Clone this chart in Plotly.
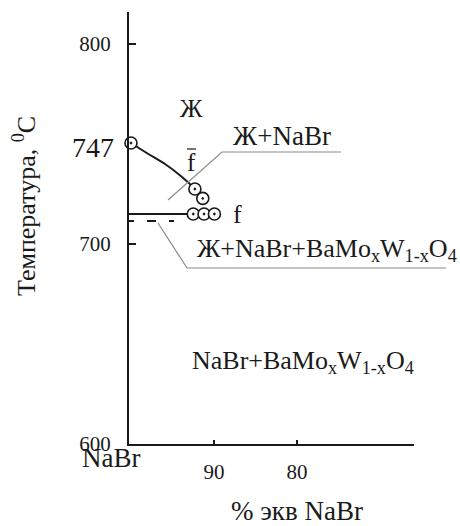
import plotly.graph_objects as go

# ---- data ----
liquidus_x = [100.0, 98.1, 95.9, 93.85, 92.3, 91.35]
liquidus_y = [750.5, 745.5, 740.0, 733.5, 727.5, 722.8]

points_x = [100.0, 92.3, 91.35, 92.5, 91.2, 89.95]
points_y = [750.5, 727.5, 722.8, 715.0, 715.0, 715.0]

solidus_x = [100.24, 92.5]
solidus_y = [715.0, 715.0]

dashed_x = [100.24, 93.85]
dashed_y = [711.5, 711.5]

y_tickvals = [600, 700, 800]
y_ticktext = ["600", "700", "800"]
x_tickvals = [90, 80]
x_ticktext = ["90", "80"]

FONT = "Liberation Serif"
INK = "#1a1a1a"
GREY = "#8a8a8a"

fig = go.Figure()

fig.add_trace(go.Scatter(x=solidus_x, y=solidus_y, mode="lines",
                         line=dict(color=INK, width=2), hoverinfo="skip"))
fig.add_trace(go.Scatter(x=dashed_x, y=dashed_y, mode="lines",
                         line=dict(color=INK, width=2, dash="5px,13px,9px,13px"), hoverinfo="skip"))
fig.add_trace(go.Scatter(x=liquidus_x, y=liquidus_y, mode="lines",
                         line=dict(color=INK, width=2, shape="spline"), hoverinfo="skip"))

# leader line for Ж+NaBr
fig.add_trace(go.Scatter(x=[95.54, 89.04, 74.7], y=[722, 746, 746], mode="lines",
                         line=dict(color=GREY, width=1.2), hoverinfo="skip"))

fig.add_trace(go.Scatter(x=points_x, y=points_y, mode="markers",
                         marker=dict(symbol="circle-dot", size=12, color="white",
                                     line=dict(color=INK, width=1.6)),
                         cliponaxis=False, hoverinfo="skip"))

W = 285.0
H = 432.0
def px(x):
    return (x - 129) / W
def py(y):
    return (444 - y) / H

# long leader line reaching beyond the plot (paper coords, unclipped)
fig.add_shape(type="path",
              path=f"M {px(158)},{py(223)} L {px(187)},{py(268)} L {px(446)},{py(268)}",
              xref="paper", yref="paper", line=dict(color=GREY, width=1.2))
# overbar of f
fig.add_shape(type="line", x0=px(187), x1=px(196), y0=py(149), y1=py(149),
              xref="paper", yref="paper", line=dict(color=INK, width=1.2))

ann = []
def A(text, x, y, size, xanchor="center", yanchor="middle", xref="x", yref="y", angle=0):
    ann.append(dict(text=text, x=x, y=y, xref=xref, yref=yref, showarrow=False,
                    xanchor=xanchor, yanchor=yanchor, textangle=angle,
                    font=dict(family=FONT, size=size, color=INK)))

A("Ж", 92.77, 768, 25)
A("f", 92.77, 741, 25)
A("Ж+NaBr", 87.9, 754, 27, xanchor="left")
A("f", 87.9, 715, 26, xanchor="left")
A("Ж+NaBr+BaMo<sub>x</sub>W<sub>1-x</sub>O<sub>4</sub>", 92.3, 697, 26, xanchor="left")
A("NaBr+BaMo<sub>x</sub>W<sub>1-x</sub>O<sub>4</sub>", 92.9, 641, 26, xanchor="left")
A("747", px(116), 748.5, 28, xanchor="right", xref="paper")
A("NaBr", px(111), py(458), 27, xref="paper", yref="paper")
A("% экв NaBr", px(297), py(511), 27, xref="paper", yref="paper")
A("Температура, <sup>0</sup>C", px(24), 719, 26, xref="paper", angle=-90)

fig.update_layout(
    width=460, height=526,
    margin=dict(l=129, r=46, t=12, b=82),
    paper_bgcolor="white", plot_bgcolor="white",
    showlegend=False,
    annotations=ann,
    xaxis=dict(range=[100.24, 65.9], showgrid=False, zeroline=False,
               showline=True, linecolor=INK, linewidth=2,
               tickvals=x_tickvals, ticktext=x_ticktext,
               ticks="inside", ticklen=4, tickwidth=2, tickcolor=INK,
               ticklabelstandoff=8,
               tickfont=dict(family=FONT, size=21, color=INK)),
    yaxis=dict(range=[600, 816], showgrid=False, zeroline=False,
               showline=True, linecolor=INK, linewidth=2,
               tickvals=y_tickvals, ticktext=y_ticktext,
               ticks="inside", ticklen=7, tickwidth=2, tickcolor=INK,
               ticklabelstandoff=12,
               tickfont=dict(family=FONT, size=21, color=INK)),
)

fig.write_html("out.html")
